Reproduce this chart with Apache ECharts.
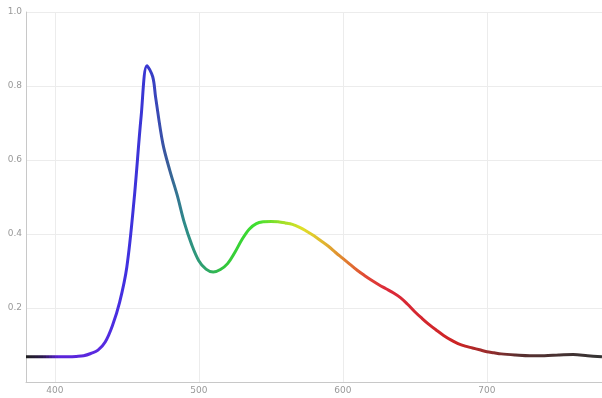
<!DOCTYPE html>
<html>
<head>
<meta charset="utf-8">
<script src="https://cdn.jsdelivr.net/npm/echarts@6/dist/echarts.min.js"></script>
<style>html,body{margin:0;padding:0;background:#fff;}#c{width:602px;height:398px;}</style>
</head>
<body>
<div id="c"></div>
<script>
var wavelengths = [380,385,390,395,400,405,410,415,420,425,430,435,440,445,450,455,460,464,468,470,475,480,485,490,495,500,505,510,515,520,525,530,535,540,545,550,555,560,565,570,575,580,585,590,595,600,605,610,615,620,625,630,635,640,645,650,655,660,665,670,675,680,685,690,695,700,705,710,720,730,740,750,760,770,780];
var intensity = [0.068,0.068,0.068,0.068,0.068,0.068,0.068,0.069,0.071,0.077,0.086,0.108,0.152,0.215,0.31,0.49,0.72,0.855,0.825,0.77,0.645,0.57,0.505,0.43,0.372,0.328,0.305,0.297,0.304,0.32,0.35,0.385,0.413,0.428,0.433,0.434,0.433,0.43,0.426,0.418,0.407,0.395,0.381,0.367,0.35,0.334,0.318,0.302,0.288,0.275,0.263,0.252,0.241,0.228,0.21,0.19,0.172,0.155,0.14,0.126,0.114,0.104,0.097,0.092,0.087,0.082,0.079,0.076,0.073,0.071,0.071,0.073,0.074,0.071,0.068];
var xTicks = [400,500,600,700];
var yTicks = [0,0.2,0.4,0.6,0.8,1.0];

var colorStops = [
  [380,'#1e1e1e'],[392,'#2c1850'],[402,'#5a22d8'],[430,'#5a2ae0'],[450,'#4030e0'],[465,'#3838d0'],
  [478,'#3a5a9a'],[490,'#2e8a8a'],[503,'#2ea070'],[518,'#33c83a'],[540,'#3ee030'],[558,'#9ee028'],
  [572,'#e0e028'],[588,'#e0b030'],[603,'#e07a30'],[615,'#e04a34'],[630,'#dc2a3a'],[680,'#cc2424'],
  [700,'#9a2c2c'],[722,'#5a3030'],[780,'#333333']
];
var vmPieces = [];
for (var i = 0; i < colorStops.length - 1; i++) {
  var a = colorStops[i], b = colorStops[i+1];
  var steps = Math.max(1, Math.round((b[0]-a[0])/2));
  for (var s = 0; s < steps; s++) {
    var lo = a[0] + (b[0]-a[0])*s/steps, hi = a[0] + (b[0]-a[0])*(s+1)/steps;
    var t = (s+0.5)/steps;
    var ca = echarts.color.parse(a[1]), cb = echarts.color.parse(b[1]);
    var c = 'rgb(' + Math.round(ca[0]+(cb[0]-ca[0])*t) + ',' + Math.round(ca[1]+(cb[1]-ca[1])*t) + ',' + Math.round(ca[2]+(cb[2]-ca[2])*t) + ')';
    vmPieces.push({gte: lo, lt: hi, color: c});
  }
}
vmPieces[vmPieces.length-1].lte = 780; delete vmPieces[vmPieces.length-1].lt;

var data = wavelengths.map(function(w, i){ return [w, intensity[i]]; });

var chart = echarts.init(document.getElementById('c'), null, {renderer:'canvas'});
chart.setOption({
  animation: false,
  backgroundColor: '#ffffff',
  grid: {left: 26, right: 0, top: 12, bottom: 16, containLabel: false},
  visualMap: {show: false, type: 'piecewise', dimension: 0, seriesIndex: 0, pieces: vmPieces},
  xAxis: {
    type: 'value', min: 380, max: 780,
    axisLine: {show: true, lineStyle: {color: '#c8c8c8', width: 1}},
    axisTick: {show: false, customValues: xTicks},
    axisLabel: {customValues: xTicks, color: '#999', fontSize: 9, margin: 4, fontFamily: 'DejaVu Sans'},
    splitLine: {show: true, lineStyle: {color: '#ececec', width: 1}}
  },
  yAxis: {
    type: 'value', min: 0, max: 1, interval: 0.2,
    axisLine: {show: true, lineStyle: {color: '#c8c8c8', width: 1}},
    axisTick: {show: false},
    axisLabel: {color: '#999', fontSize: 9, margin: 4, fontFamily: 'DejaVu Sans',
      formatter: function(v){ return v === 0 ? '' : v.toFixed(1); }},
    splitLine: {show: true, lineStyle: {color: '#ececec', width: 1}}
  },
  series: [{
    type: 'line', data: data, smooth: 0.35, showSymbol: false, symbol: 'none',
    lineStyle: {width: 3}
  }]
});
</script>
</body>
</html>
